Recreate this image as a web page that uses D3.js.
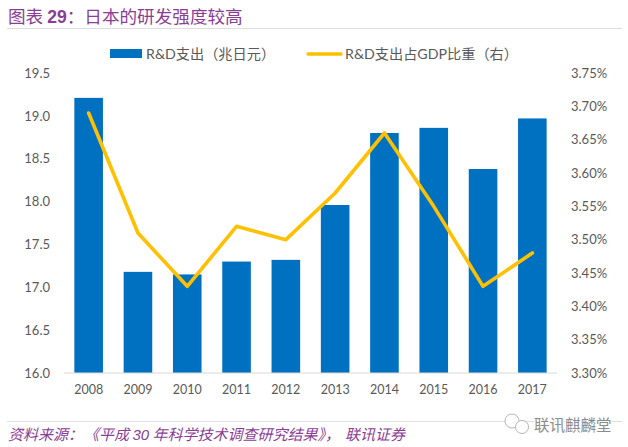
<!DOCTYPE html>
<html>
<head>
<meta charset="utf-8">
<script src="https://cdn.jsdelivr.net/npm/d3@7"></script>
<style>
body { margin: 0; background: #fff; }
text { font-family: Lato, "Noto Sans CJK SC", sans-serif; }
</style>
</head>
<body>
<div id="chart"></div>
<script>
// Data
const years = ["2008", "2009", "2010", "2011", "2012", "2013", "2014", "2015", "2016", "2017"];
const spending = [19.21, 17.18, 17.15, 17.30, 17.32, 17.96, 18.80, 18.86, 18.38, 18.97];
const gdpShare = [3.69, 3.51, 3.43, 3.52, 3.50, 3.57, 3.66, 3.55, 3.43, 3.48];
const leftTicks = [16.0, 16.5, 17.0, 17.5, 18.0, 18.5, 19.0, 19.5];
const rightTicks = [3.30, 3.35, 3.40, 3.45, 3.50, 3.55, 3.60, 3.65, 3.70, 3.75];

const width = 628;
const height = 447;
const purple = "#8a3d96";
const labelColor = "#595959";

const svg = d3.select("#chart")
    .append("svg")
    .attr("width", width)
    .attr("height", height)
    .style("display", "block");

// Scales
const x = d3.scaleBand().domain(years).range([64, 557]).paddingInner(0.42).paddingOuter(0.21);
const yLeft = d3.scaleLinear().domain([16, 19.5]).range([373, 73]);
const yRight = d3.scaleLinear().domain([3.30, 3.75]).range([373, 73]);

// Title and rules
const title = svg.append("text")
    .attr("x", 8).attr("y", 23)
    .attr("fill", purple)
    .style("font-size", "17.6px")
    .style("font-family", "'Noto Sans CJK SC', sans-serif");
title.append("tspan").text("图表 ");
title.append("tspan").style("font-family", "'Liberation Sans', sans-serif").style("font-weight", 700).text("29");
title.append("tspan").text("：日本的研发强度较高");

svg.append("line").attr("x1", 7).attr("x2", 622).attr("y1", 28.5).attr("y2", 28.5)
    .attr("stroke", "#dedede");
svg.append("line").attr("x1", 7).attr("x2", 622).attr("y1", 421.5).attr("y2", 421.5)
    .attr("stroke", "#dedede");

// Bars
svg.append("g")
    .selectAll("rect")
    .data(spending)
    .enter().append("rect")
    .attr("x", (d, i) => x(years[i]))
    .attr("y", d => yLeft(d))
    .attr("width", x.bandwidth())
    .attr("height", d => yLeft(16) - yLeft(d))
    .attr("fill", "#0070c0");

// Baseline
svg.append("line").attr("x1", 64).attr("x2", 557).attr("y1", 373).attr("y2", 373)
    .attr("stroke", "#d9d9d9");

// Line
const line = d3.line()
    .x((d, i) => x(years[i]) + x.bandwidth() / 2)
    .y(d => yRight(d));

svg.append("path")
    .datum(gdpShare)
    .attr("d", line)
    .attr("fill", "none")
    .attr("stroke", "#ffc000")
    .attr("stroke-width", 3.6)
    .attr("stroke-linecap", "round")
    .attr("stroke-linejoin", "round");

// Axes
const axisLeft = d3.axisLeft(yLeft).tickValues(leftTicks).tickFormat(d3.format(".1f")).tickSize(0).tickPadding(0);
const axisRight = d3.axisRight(yRight).tickValues(rightTicks).tickFormat(d => d3.format(".2f")(d) + "%").tickSize(0).tickPadding(0);
const axisBottom = d3.axisBottom(x).tickSize(0).tickPadding(0);

const gLeft = svg.append("g").attr("transform", "translate(50,0)").call(axisLeft);
const gRight = svg.append("g").attr("transform", "translate(571,0)").call(axisRight);
const gBottom = svg.append("g").attr("transform", "translate(0,385)").call(axisBottom);

[gLeft, gRight, gBottom].forEach(g => {
    g.select(".domain").remove();
    g.selectAll("text")
        .attr("fill", labelColor)
        .style("font-family", "Lato, 'Open Sans', sans-serif")
        .style("font-size", "13px");
});
gBottom.selectAll("text").style("font-size", "12.5px");

// Legend
const legend = svg.append("g").style("font-size", "14.2px").attr("fill", labelColor);
legend.append("rect").attr("x", 110).attr("y", 49).attr("width", 32).attr("height", 9).attr("fill", "#0070c0");
legend.append("text").attr("x", 146).attr("y", 59).text("R&D支出（兆日元）");
legend.append("line").attr("x1", 308).attr("x2", 341).attr("y1", 54).attr("y2", 54)
    .attr("stroke", "#ffc000").attr("stroke-width", 3.4).attr("stroke-linecap", "round");
legend.append("text").attr("x", 345).attr("y", 59).text("R&D支出占GDP比重（右）");

// Source
const source = svg.append("text")
    .attr("y", 440)
    .attr("fill", purple)
    .style("font-size", "15px")
    .style("font-style", "italic")
    .style("font-family", "'Noto Sans CJK SC', sans-serif");
source.append("tspan").attr("x", 8).text("资料来源：");
source.append("tspan").attr("x", 84).text("《平成 ");
source.append("tspan").style("font-family", "'Liberation Sans', sans-serif").text("30");
source.append("tspan").text(" 年科学技术调查研究结果》，");
source.append("tspan").attr("dx", 5).text("联讯证券");

// Watermark
const mark = svg.append("g").attr("fill", "#fff").attr("stroke", "#b5b5b5");
mark.append("circle").attr("cx", 512).attr("cy", 421).attr("r", 7);
mark.append("circle").attr("cx", 522).attr("cy", 427).attr("r", 6.5);
svg.append("text")
    .attr("x", 534).attr("y", 431)
    .attr("fill", "#8c8c8c")
    .attr("stroke", "#fff")
    .attr("stroke-width", 2)
    .attr("paint-order", "stroke")
    .style("font-family", "'Noto Sans CJK SC', sans-serif")
    .style("font-size", "15.5px")
    .text("联讯麒麟堂");
</script>
</body>
</html>
